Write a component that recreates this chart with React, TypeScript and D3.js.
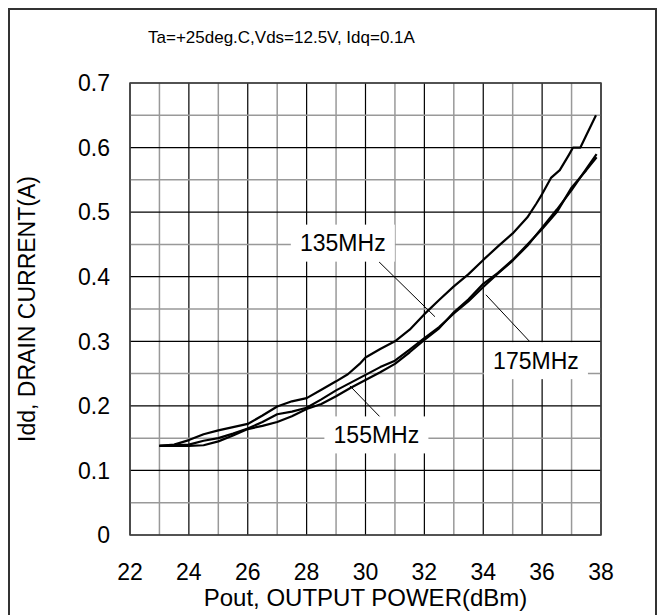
import React, { useEffect, useRef } from 'react';
import * as d3 from 'd3';

const title = 'Ta=+25deg.C,Vds=12.5V, Idq=0.1A';
const xTitle = 'Pout, OUTPUT POWER(dBm)';
const yTitle = 'Idd, DRAIN CURRENT(A)';
const xTicks = [22, 24, 26, 28, 30, 32, 34, 36, 38];
const yTicks = [0, 0.1, 0.2, 0.3, 0.4, 0.5, 0.6, 0.7];

// Pout (dBm) / Idd (A)
const pout135 = [23.0, 23.5, 24.0, 24.5, 25.0, 25.5, 26.0, 26.5, 27.0, 27.5, 28.0, 28.5, 29.0, 29.4, 29.8, 30.0, 30.5, 31.0, 31.5, 32.0, 32.5, 33.0, 33.5, 34.0, 34.5, 35.0, 35.5, 35.8, 36.0, 36.3, 36.6, 36.9, 37.05, 37.3, 37.5, 37.83];
const idd135 = [0.138, 0.140, 0.147, 0.156, 0.162, 0.167, 0.172, 0.185, 0.199, 0.207, 0.212, 0.225, 0.238, 0.249, 0.265, 0.275, 0.288, 0.300, 0.318, 0.342, 0.364, 0.385, 0.404, 0.426, 0.447, 0.467, 0.492, 0.513, 0.528, 0.553, 0.565, 0.588, 0.600, 0.600, 0.619, 0.650];

const pout155 = [23.0, 23.5, 24.0, 24.5, 25.0, 25.5, 26.0, 26.5, 27.0, 27.5, 28.0, 28.5, 29.0, 29.5, 30.0, 30.5, 31.0, 31.5, 32.0, 32.5, 33.0, 33.5, 34.0, 34.5, 35.0, 35.5, 36.0, 36.5, 37.0, 37.5, 37.85];
const idd155 = [0.138, 0.139, 0.140, 0.146, 0.150, 0.157, 0.165, 0.175, 0.187, 0.191, 0.197, 0.210, 0.224, 0.236, 0.248, 0.260, 0.270, 0.287, 0.305, 0.322, 0.343, 0.362, 0.384, 0.405, 0.425, 0.448, 0.476, 0.504, 0.534, 0.567, 0.590];

const pout175 = [23.0, 23.5, 24.0, 24.5, 25.0, 25.5, 26.0, 26.5, 27.0, 27.5, 28.0, 28.5, 29.0, 29.5, 30.0, 30.5, 31.0, 31.5, 32.0, 32.5, 33.0, 33.5, 34.0, 34.5, 35.0, 35.5, 36.0, 36.5, 37.0, 37.5, 37.85];
const idd175 = [0.138, 0.138, 0.138, 0.139, 0.145, 0.154, 0.164, 0.169, 0.175, 0.184, 0.195, 0.203, 0.215, 0.228, 0.240, 0.252, 0.265, 0.283, 0.302, 0.320, 0.345, 0.365, 0.389, 0.406, 0.426, 0.450, 0.474, 0.500, 0.538, 0.565, 0.585];

// curve labels: box centre and leader line, in data units
const labelNames = ['135MHz', '175MHz', '155MHz'];
const labelX = [29.23, 35.79, 30.37];
const labelY = [0.452, 0.270, 0.155];
const leaderFrom = [[30.46, 0.423], [34.09, 0.372], [29.47, 0.231]];
const leaderTo = [[32.36, 0.338], [35.59, 0.299], [30.49, 0.183]];

const App = () => {
  const svgRef = useRef<SVGSVGElement>(null);

  useEffect(() => {
    const width = 661;
    const height = 615;
    const margin = { top: 83, right: 60, bottom: 80, left: 130 };
    const font = 'Liberation Sans, Arial, sans-serif';

    const svg = d3.select(svgRef.current)
      .attr('width', width)
      .attr('height', height);
    svg.selectAll('*').remove();

    svg.append('rect')
      .attr('x', 9).attr('y', 9)
      .attr('width', 647).attr('height', 620)
      .attr('fill', 'white')
      .attr('stroke', '#333')
      .attr('stroke-width', 2);

    const x = d3.scaleLinear().domain([22, 38]).range([margin.left, width - margin.right]);
    const y = d3.scaleLinear().domain([0, 0.7]).range([height - margin.bottom, margin.top]);

    // grid: grey at odd / half steps, black at labelled ticks
    const g = svg.append('g');
    d3.range(22, 38.01, 1).forEach(v => {
      const major = Math.round(v) % 2 === 0;
      g.append('line')
        .attr('x1', x(v)).attr('x2', x(v))
        .attr('y1', y(0)).attr('y2', y(0.7))
        .attr('stroke', major ? '#000' : '#999')
        .attr('stroke-width', major ? 1.2 : 1.5);
    });
    d3.range(0, 0.701, 0.05).forEach((v, i) => {
      const major = i % 2 === 0;
      g.append('line')
        .attr('x1', x(22)).attr('x2', x(38))
        .attr('y1', y(v)).attr('y2', y(v))
        .attr('stroke', major ? '#000' : '#999')
        .attr('stroke-width', major ? 1.2 : 1.5);
    });
    g.append('rect')
      .attr('x', x(22)).attr('y', y(0.7))
      .attr('width', x(38) - x(22)).attr('height', y(0) - y(0.7))
      .attr('fill', 'none')
      .attr('stroke', '#444')
      .attr('stroke-width', 1.5);

    const series = [
      [pout135, idd135],
      [pout155, idd155],
      [pout175, idd175],
    ];
    series.forEach(([px, py]) => {
      const pts = px.map((v, i) => [x(v), y(py[i])] as [number, number]);
      svg.append('path')
        .attr('d', d3.line()(pts))
        .attr('fill', 'none')
        .attr('stroke', '#000')
        .attr('stroke-width', 2.2)
        .attr('stroke-linejoin', 'round');
    });

    // labels with white boxes and leader lines
    labelNames.forEach((name, i) => {
      svg.append('line')
        .attr('x1', x(leaderFrom[i][0])).attr('y1', y(leaderFrom[i][1]))
        .attr('x2', x(leaderTo[i][0])).attr('y2', y(leaderTo[i][1]))
        .attr('stroke', '#000')
        .attr('stroke-width', 1);
      const cx = x(labelX[i]);
      const cy = y(labelY[i]);
      svg.append('rect')
        .attr('x', cx - 52).attr('y', cy - 18.5)
        .attr('width', 104).attr('height', 37)
        .attr('fill', 'white');
      svg.append('text')
        .attr('x', cx).attr('y', cy)
        .attr('dy', '0.36em')
        .attr('text-anchor', 'middle')
        .attr('font-family', font)
        .attr('font-size', 23)
        .text(name);
    });

    // tick labels
    svg.append('g').selectAll('text')
      .data(xTicks)
      .join('text')
      .attr('x', d => x(d))
      .attr('y', 580)
      .attr('text-anchor', 'middle')
      .attr('font-family', font)
      .attr('font-size', 23)
      .text(d => d);

    svg.append('g').selectAll('text')
      .data(yTicks)
      .join('text')
      .attr('x', 110)
      .attr('y', d => y(d))
      .attr('dy', '0.36em')
      .attr('text-anchor', 'end')
      .attr('font-family', font)
      .attr('font-size', 23)
      .text(d => (d === 0 ? '0' : d3.format('.1f')(d)));

    svg.append('text')
      .attr('x', (x(22) + x(38)) / 2)
      .attr('y', 606)
      .attr('text-anchor', 'middle')
      .attr('font-family', font)
      .attr('font-size', 24)
      .text(xTitle);

    svg.append('text')
      .attr('transform', `translate(35,${(y(0) + y(0.7)) / 2}) rotate(-90)`)
      .attr('text-anchor', 'middle')
      .attr('font-family', font)
      .attr('font-size', 23)
      .text(yTitle);

    svg.append('text')
      .attr('x', 148)
      .attr('y', 43)
      .attr('font-family', font)
      .attr('font-size', 17)
      .text(title);
  }, []);

  return <svg ref={svgRef} style={{ position: 'absolute', left: 0, top: 0 }}></svg>;
};

export default App;
